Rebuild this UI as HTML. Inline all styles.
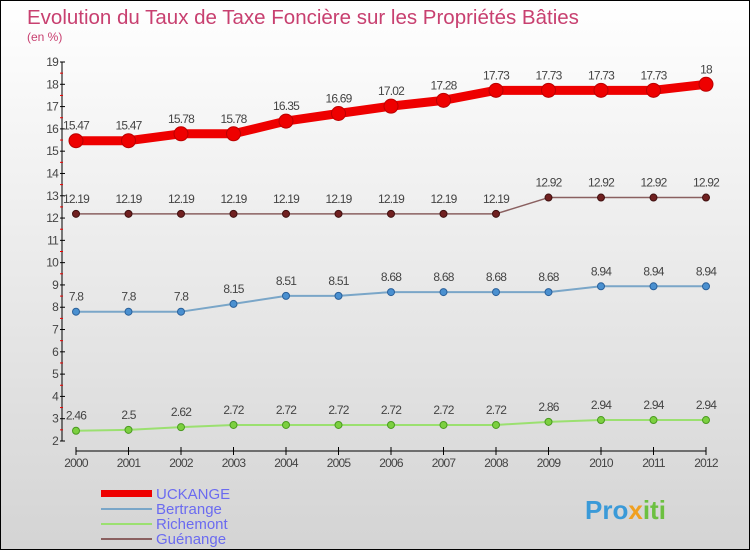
<!DOCTYPE html>
<html><head><meta charset="utf-8"><style>
body{margin:0}
#c{width:750px;height:550px;position:relative;box-sizing:border-box;border:1px solid #000;background:linear-gradient(#fff,#d4d4d4);font-family:"Liberation Sans",sans-serif;overflow:hidden}
</style></head><body>
<div id="c">
<svg id="s" width="750" height="550" style="position:absolute;left:0;top:0">
<text x="26" y="23" font-size="20.5" fill="#c84070">Evolution du Taux de Taxe Foncière sur les Propriétés Bâties</text>
<text x="26" y="40" font-size="12" fill="#c84070">(en %)</text>
<g id="axes"></g><g id="series"></g>
<g>
<rect x="100" y="489" width="51" height="7" fill="#e00"/>
<text x="155" y="498" font-size="15" fill="#6b6bf0">UCKANGE</text>
<rect x="100" y="507" width="51" height="2" fill="#7aa6c8"/>
<text x="155" y="513" font-size="15" fill="#6b6bf0">Bertrange</text>
<rect x="100" y="522" width="51" height="2" fill="#9be070"/>
<text x="155" y="528" font-size="15" fill="#6b6bf0">Richemont</text>
<rect x="100" y="537" width="51" height="2" fill="#8a6060"/>
<text x="155" y="543" font-size="15" fill="#6b6bf0">Guénange</text>
</g>
<text x="584" y="518" font-size="26" font-weight="bold" fill="#3a9ad8">Pro<tspan fill="#f0a020">x</tspan><tspan fill="#6cc040">iti</tspan></text>
</svg></div>
<script>
const years=[2000,2001,2002,2003,2004,2005,2006,2007,2008,2009,2010,2011,2012];
const uckange=[15.47,15.47,15.78,15.78,16.35,16.69,17.02,17.28,17.73,17.73,17.73,17.73,18];
const guenange=[12.19,12.19,12.19,12.19,12.19,12.19,12.19,12.19,12.19,12.92,12.92,12.92,12.92];
const bertrange=[7.8,7.8,7.8,8.15,8.51,8.51,8.68,8.68,8.68,8.68,8.94,8.94,8.94];
const richemont=[2.46,2.5,2.62,2.72,2.72,2.72,2.72,2.72,2.72,2.86,2.94,2.94,2.94];
const yTicks=[2,3,4,5,6,7,8,9,10,11,12,13,14,15,16,17,18,19];
const NS="http://www.w3.org/2000/svg";
const xS=i=>75+i*52.5;
const yS=v=>440-(v-2)*(379/17);
function mk(t,a,p){const e=document.createElementNS(NS,t);for(const k in a)e.setAttribute(k,a[k]);p.appendChild(e);return e;}
const ax=document.getElementById('axes'),sg=document.getElementById('series');
let l=mk('line',{x1:61,y1:yS(19),x2:61,y2:yS(2),stroke:'#000'},ax);


l=mk('line',{x1:75,y1:450,x2:705,y2:450,stroke:'#000'},ax);


yTicks.forEach(v=>{
 mk('line',{x1:59,y1:yS(v),x2:64,y2:yS(v),stroke:'#000'},ax);
 if(v<19)mk('line',{x1:59,y1:yS(v+0.5),x2:62,y2:yS(v+0.5),stroke:'#e00'},ax);
 const t=mk('text',{x:57,y:yS(v)+4,'font-size':12,fill:'#444','text-anchor':'end','letter-spacing':'-0.8'},ax);
 t.textContent=v;
 
 
});
years.forEach((y,i)=>{
 mk('line',{x1:xS(i),y1:446,x2:xS(i),y2:454,stroke:'#000'},ax);
 const t=mk('text',{x:xS(i),y:466,'font-size':12,fill:'#444','text-anchor':'middle','letter-spacing':'-0.8'},ax);
 t.textContent=y;
 
 
});
function series(arr,name,col,w,r,dot,dotStroke){
 const g=mk('g',{},sg);
 
 
 const p=mk('polyline',{points:arr.map((v,i)=>xS(i)+','+yS(v)).join(' '),fill:'none',stroke:col,'stroke-width':w,'stroke-linejoin':'round'},g);
 
 
 arr.forEach((v,i)=>{
  const c=mk('circle',{cx:xS(i),cy:yS(v),r:r,fill:dot,stroke:dotStroke,'stroke-width':1},g);
  
  
  const t=mk('text',{x:xS(i),y:yS(v)-11,'font-size':12,fill:'#444','text-anchor':'middle','letter-spacing':'-0.8'},g);
  t.textContent=v;
  
  
 });
}
series(richemont,'richemont','#9be070',2,3.5,'#7cd040','#4a9a20');
series(bertrange,'bertrange','#7aa6c8',2,3.5,'#4a90d0','#2a609a');
series(guenange,'guenange','#8a6060',1.5,3.5,'#702020','#401010');
series(uckange,'uckange','#e00',9,7,'#e00','#b00');
</script>
</body></html>
